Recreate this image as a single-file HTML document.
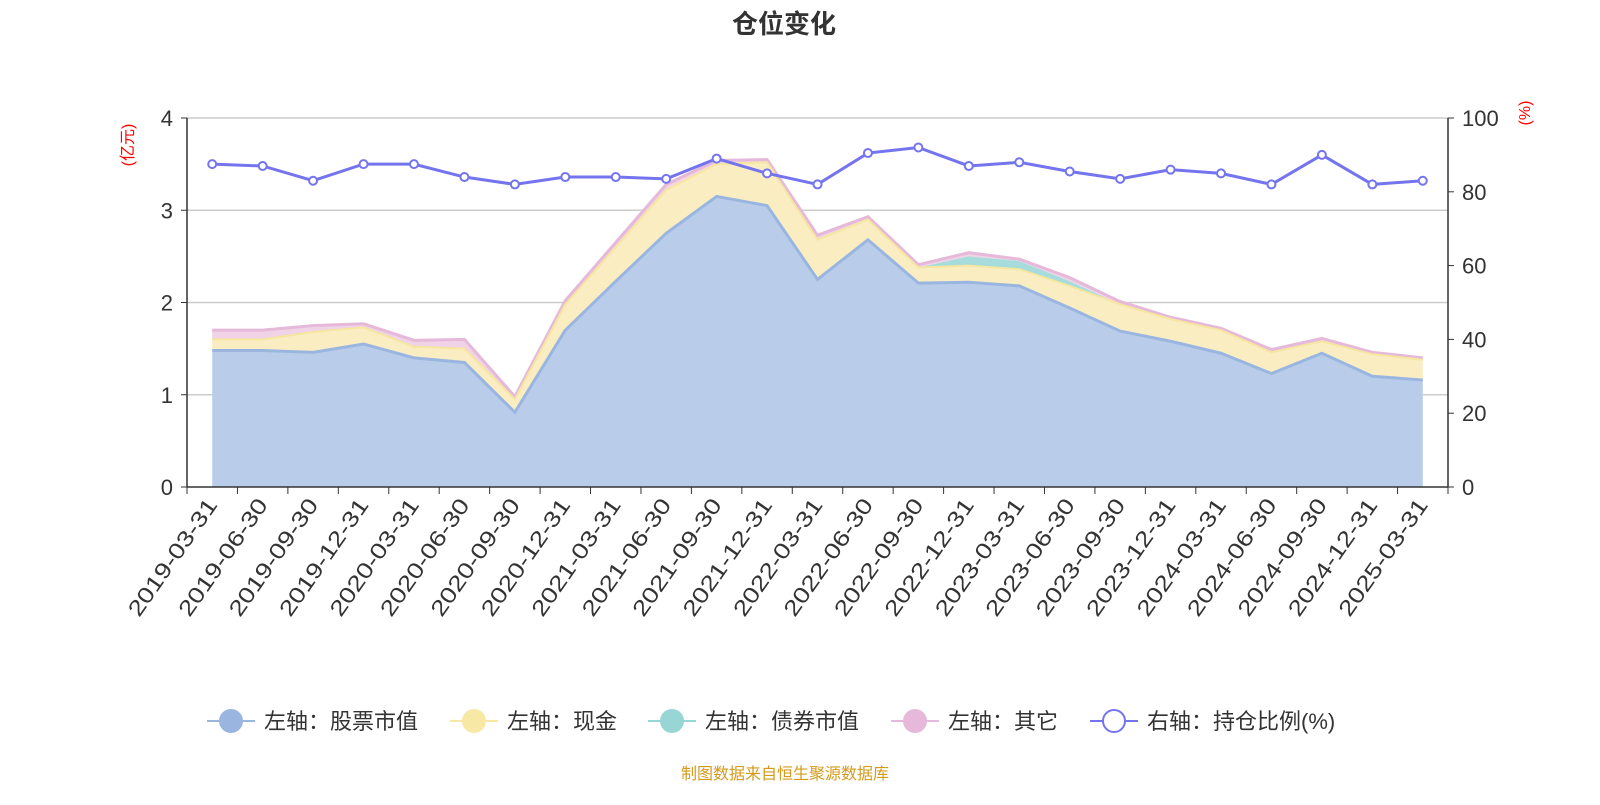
<!DOCTYPE html>
<html><head><meta charset="utf-8"><style>
body{margin:0;background:#fff;width:1600px;height:800px;overflow:hidden}
svg text{font-family:"Liberation Sans","Noto Sans CJK SC",sans-serif}
</style></head><body>
<svg id="s" width="1600" height="800" xmlns="http://www.w3.org/2000/svg"></svg>
<script>
const S=document.getElementById('s');let h='';
const L=187,R=1448,T=118,B=487,n=25,cw=(R-L)/n;
const X=i=>L+cw/2+i*cw, Y=v=>B-v*(B-T)/4, YR=v=>B-v*(B-T)/100;
const labels=[];for(let y=2019;y<=2025;y++)for(const d of['03-31','06-30','09-30','12-31'])labels.push(y+'-'+d);
labels.length=25;
const stock=[1.48,1.48,1.46,1.55,1.40,1.35,0.81,1.70,2.23,2.75,3.15,3.05,2.25,2.68,2.21,2.22,2.18,1.94,1.69,1.58,1.45,1.23,1.45,1.20,1.16];
const cash=[1.60,1.60,1.68,1.73,1.52,1.50,0.95,1.98,2.60,3.22,3.50,3.52,2.68,2.90,2.38,2.40,2.36,2.18,1.98,1.82,1.70,1.46,1.58,1.44,1.38];
const bond=cash.slice();bond[15]=2.50;bond[16]=2.45;bond[17]=2.23;
const tot=[1.70,1.70,1.75,1.77,1.59,1.60,0.98,2.02,2.65,3.28,3.54,3.55,2.73,2.93,2.41,2.54,2.47,2.27,2.01,1.84,1.72,1.49,1.61,1.46,1.40];
const ratio=[87.5,87,83,87.5,87.5,84,82,84,84,83.5,89,85,82,90.5,92,87,88,85.5,83.5,86,85,82,90,82,83];
for(let v=1;v<=4;v++)h+=`<line x1="${L}" x2="${R}" y1="${Y(v)}" y2="${Y(v)}" stroke="#ccc" stroke-width="1.5"/>`;
function band(top,bot,fill){let p=top.map((v,i)=>X(i)+','+Y(v)).join(' ');p+=' '+bot.map((v,i)=>X(i)+','+Y(v)).reverse().join(' ');return `<polygon points="${p}" fill="${fill}"/>`}
const z=stock.map(()=>0);
h+=band(tot,bond,'#f0d3e6');
h+=band(bond,cash,'#a6dcdc');
h+=band(cash,stock,'#faedc2');
h+=band(stock,z,'#b9cdea');
const line=(a,c,w)=>`<polyline points="${a.map((v,i)=>X(i)+','+Y(v)).join(' ')}" fill="none" stroke="${c}" stroke-width="${w}"/>`;
h+=line(tot,'#e6b8d9',3);h+=line(cash,'#f5e6a0',2);h+=line(stock,'#9ab6e0',3);
h+=`<line x1="${L}" x2="${L}" y1="${T}" y2="${B}" stroke="#333" stroke-width="1.5"/><line x1="${R}" x2="${R}" y1="${T}" y2="${B}" stroke="#333" stroke-width="1.5"/><line x1="${L}" x2="${R}" y1="${B}" y2="${B}" stroke="#333" stroke-width="1.5"/>`;
for(let v=0;v<=4;v++)h+=`<line x1="${L-6}" x2="${L}" y1="${Y(v)}" y2="${Y(v)}" stroke="#333"/><text x="${L-14}" y="${Y(v)+8}" font-size="22" text-anchor="end" fill="#333">${v}</text>`;
for(let v=0;v<=100;v+=20)h+=`<line x1="${R}" x2="${R+6}" y1="${YR(v)}" y2="${YR(v)}" stroke="#333"/><text x="${R+14}" y="${YR(v)+8}" font-size="22" fill="#333">${v}</text>`;
for(let i=0;i<=n;i++)h+=`<line x1="${L+i*cw}" x2="${L+i*cw}" y1="${B}" y2="${B+7}" stroke="#333"/>`;
labels.forEach((t,i)=>{const x=X(i)+6,y=B+18;h+=`<text x="${x}" y="${y}" font-size="22" fill="#333" text-anchor="end" textLength="138" lengthAdjust="spacingAndGlyphs" transform="rotate(-55 ${x} ${y})">${t}</text>`});
h+=`<polyline points="${ratio.map((v,i)=>X(i)+','+YR(v)).join(' ')}" fill="none" stroke="#7474ee" stroke-width="3"/>`;
ratio.forEach((v,i)=>h+=`<circle cx="${X(i)}" cy="${YR(v)}" r="4" fill="#fff" stroke="#7474ee" stroke-width="2"/>`);
h+=`<text x="0" y="0" font-size="16" fill="red" text-anchor="middle" transform="translate(133,145) rotate(-90)">(亿元)</text>`;
h+=`<text x="0" y="0" font-size="16" fill="red" text-anchor="middle" transform="translate(1530,113) rotate(-90)">(%)</text>`;
h+=`<text x="784" y="33" font-size="26" font-weight="bold" fill="#333" text-anchor="middle">仓位变化</text>`;
const lg=[[207,'#9ab6e0','左轴：股票市值',1],[450,'#f7e8a6','左轴：现金',1],[648,'#98d5d5','左轴：债券市值',1],[891,'#e6b8d9','左轴：其它',1],[1090,'#7474ee','右轴：持仓比例(%)',0]];
lg.forEach(([x,c,t,f])=>{h+=`<line x1="${x}" x2="${x+48}" y1="721" y2="721" stroke="${c}" stroke-width="2"/><circle cx="${x+24}" cy="721" r="11" fill="${f?c:'#fff'}" stroke="${c}" stroke-width="2"/><text x="${x+57}" y="729" font-size="22" fill="#333">${t}</text>`});
h+=`<text x="785" y="779" font-size="16" fill="#d49a1a" text-anchor="middle">制图数据来自恒生聚源数据库</text>`;
S.innerHTML=h;
</script>
</body></html>
